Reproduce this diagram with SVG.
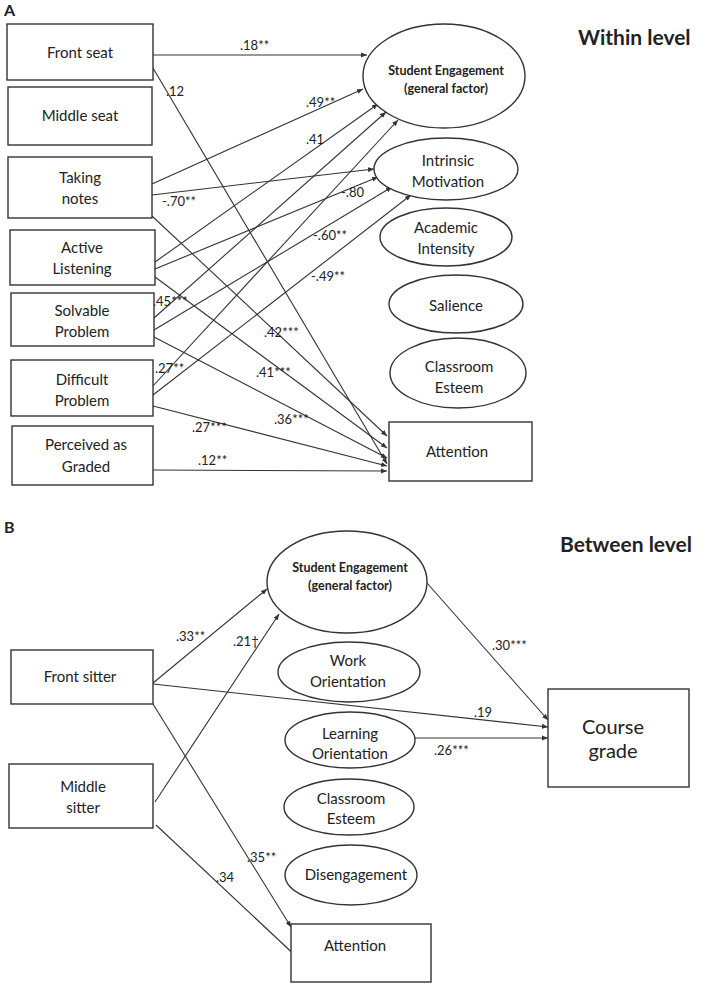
<svg xmlns="http://www.w3.org/2000/svg" width="708" height="987" viewBox="0 0 708 987">
<style>
.n{fill:#fff;stroke:#333;stroke-width:1.4}
text{font-family:Lato,"Open Sans",sans-serif;fill:#222}
.t{font-size:15px;text-anchor:middle}
.b{font-size:12.5px;font-weight:bold;text-anchor:middle}
.l{font-size:13px}
.h{font-size:21px;font-weight:bold}
.e line{stroke:#333;stroke-width:1.1;marker-end:url(#a)}
</style>
<defs><marker id="a" markerWidth="7" markerHeight="6" refX="6" refY="3" orient="auto" markerUnits="userSpaceOnUse"><path d="M0,0.5 L6,3 L0,5.5z" fill="#333"/></marker></defs>
<rect width="708" height="987" fill="#fff"/>
<text x="4" y="16" class="h" style="font-size:16px">A</text>
<text x="578" y="45" class="h">Within level</text>
<text x="4" y="533" class="h" style="font-size:16px">B</text>
<text x="560" y="552" class="h">Between level</text>
<g class="e">
<line x1="153" y1="55" x2="367" y2="55"/>
<line x1="153" y1="68" x2="387" y2="464"/>
<line x1="152" y1="184" x2="363" y2="89"/>
<line x1="152" y1="195" x2="374" y2="169"/>
<line x1="152" y1="216" x2="387" y2="436"/>
<line x1="155" y1="262" x2="378" y2="104"/>
<line x1="155" y1="269" x2="378" y2="177"/>
<line x1="155" y1="277" x2="387" y2="448"/>
<line x1="154" y1="318" x2="386" y2="112"/>
<line x1="154" y1="330" x2="392" y2="187"/>
<line x1="154" y1="337" x2="387" y2="458"/>
<line x1="153" y1="386" x2="398" y2="120"/>
<line x1="153" y1="395" x2="411" y2="195"/>
<line x1="153" y1="406" x2="387" y2="466"/>
<line x1="153" y1="470" x2="387" y2="471"/>
<line x1="153" y1="683" x2="267" y2="589"/>
<line x1="155" y1="802" x2="279" y2="614"/>
<line x1="153" y1="684" x2="548" y2="727"/>
<line x1="153" y1="704" x2="291" y2="927"/>
<line x1="156" y1="825" x2="300" y2="960"/>
<line x1="427" y1="583" x2="548" y2="720"/>
<line x1="414" y1="738" x2="548" y2="738"/>
</g>
<g class="l">
<text x="240" y="50">.18**</text>
<text x="166" y="96">.12</text>
<text x="306" y="107">.49**</text>
<text x="306" y="144">.41</text>
<text x="162" y="206">-.70**</text>
<text x="341" y="197">-.80</text>
<text x="313" y="240">-.60**</text>
<text x="311" y="281">-.49**</text>
<text x="153" y="306">.45***</text>
<text x="264" y="337">.42***</text>
<text x="256" y="377">.41***</text>
<text x="155" y="373">.27**</text>
<text x="274" y="424">.36***</text>
<text x="192" y="432">.27***</text>
<text x="198" y="465">.12**</text>
<text x="176" y="641">.33**</text>
<text x="233" y="646">.21†</text>
<text x="492" y="650">.30***</text>
<text x="474" y="717">.19</text>
<text x="434" y="755">.26***</text>
<text x="247" y="862">.35**</text>
<text x="216" y="882">.34</text>
</g>
<g id="frontseat"><rect class="n" x="7" y="24" width="146" height="56"/><text class="t" x="80" y="58">Front seat</text></g>
<g id="middleseat"><rect class="n" x="8" y="87" width="144" height="58"/><text class="t" x="80" y="121">Middle seat</text></g>
<g id="takingnotes"><rect class="n" x="8" y="157" width="144" height="61"/><text class="t" x="80" y="183">Taking</text><text class="t" x="80" y="204">notes</text></g>
<g id="activelistening"><rect class="n" x="10" y="230" width="145" height="55"/><text class="t" x="82" y="253">Active</text><text class="t" x="82" y="274">Listening</text></g>
<g id="solvable"><rect class="n" x="11" y="293" width="143" height="53"/><text class="t" x="82" y="316">Solvable</text><text class="t" x="82" y="337">Problem</text></g>
<g id="difficult"><rect class="n" x="11" y="360" width="142" height="56"/><text class="t" x="82" y="385">Difficult</text><text class="t" x="82" y="406">Problem</text></g>
<g id="graded"><rect class="n" x="12" y="426" width="141" height="59"/><text class="t" x="86" y="450">Perceived as</text><text class="t" x="86" y="472">Graded</text></g>
<g id="seA"><ellipse class="n" cx="444" cy="76" rx="81" ry="52"/><text class="b" x="446" y="75">Student Engagement</text><text class="b" x="446" y="93">(general factor)</text></g>
<g id="im"><ellipse class="n" cx="446" cy="169" rx="72" ry="31"/><text class="t" x="448" y="166">Intrinsic</text><text class="t" x="448" y="187">Motivation</text></g>
<g id="ai"><ellipse class="n" cx="446" cy="237" rx="66" ry="29"/><text class="t" x="446" y="233">Academic</text><text class="t" x="446" y="254">Intensity</text></g>
<g id="sal"><ellipse class="n" cx="456" cy="304" rx="67" ry="29"/><text class="t" x="456" y="311">Salience</text></g>
<g id="ceA"><ellipse class="n" cx="458" cy="373" rx="68" ry="35"/><text class="t" x="459" y="372">Classroom</text><text class="t" x="459" y="393">Esteem</text></g>
<g id="attA"><rect class="n" x="389" y="422" width="143" height="59"/><text class="t" x="457" y="457">Attention</text></g>
<g id="front"><rect class="n" x="11" y="650" width="142" height="54"/><text class="t" x="80" y="682">Front sitter</text></g>
<g id="middle"><rect class="n" x="9" y="764" width="144" height="64"/><text class="t" x="83" y="792">Middle</text><text class="t" x="83" y="813">sitter</text></g>
<g id="seB"><ellipse class="n" cx="347" cy="582" rx="80" ry="51"/><text class="b" x="350" y="572">Student Engagement</text><text class="b" x="350" y="590">(general factor)</text></g>
<g id="wo"><ellipse class="n" cx="349" cy="672" rx="71" ry="30"/><text class="t" x="348" y="666">Work</text><text class="t" x="348" y="687">Orientation</text></g>
<g id="lo"><ellipse class="n" cx="350" cy="740" rx="65" ry="28"/><text class="t" x="350" y="739">Learning</text><text class="t" x="350" y="759">Orientation</text></g>
<g id="ceB"><ellipse class="n" cx="349" cy="807" rx="65" ry="28"/><text class="t" x="351" y="804">Classroom</text><text class="t" x="351" y="824">Esteem</text></g>
<g id="dis"><ellipse class="n" cx="351" cy="875" rx="66" ry="30"/><text class="t" x="356" y="880">Disengagement</text></g>
<g id="grade"><rect class="n" x="548" y="689" width="141" height="98"/><text class="t" x="613" y="734" style="font-size:20px">Course</text><text class="t" x="613" y="758" style="font-size:20px">grade</text></g>
<g id="attB"><rect class="n" x="291" y="924" width="140" height="58"/><text class="t" x="355" y="951">Attention</text></g>
</svg>
